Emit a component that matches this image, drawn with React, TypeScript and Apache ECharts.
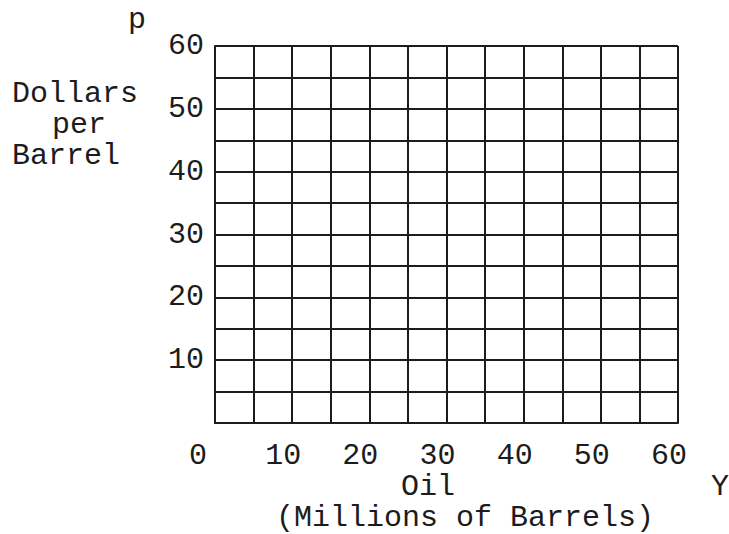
import React, { useEffect, useRef } from "react";
import * as echarts from "echarts";

const xMin = 0;
const xMax = 60;
const yMin = 0;
const yMax = 60;
const gridStep = 5;
const labelStep = 10;

const yLabelTitleLines = ["Dollars", "per", "Barrel"];
const yVarName = "p";
const xVarName = "Y";
const xTitle = "Oil";
const xSubTitle = "(Millions of Barrels)";

const FONT = '"Liberation Mono", "Courier New", monospace';
const INK = "#1c1c1c";

export default function App() {
  const ref = useRef<HTMLDivElement>(null);
  useEffect(() => {
    if (!ref.current) return;
    const chart = echarts.init(ref.current, null, { renderer: "svg" });
    const lineStyle = { color: INK, width: 2 };
    const fs = 30;
    const lh = 24;
    const txt = (text: string, x: number, y: number, align: string) => ({
      type: "text",
      x,
      y,
      style: {
        text,
        fontFamily: FONT,
        fontSize: fs,
        lineHeight: lh,
        fill: INK,
        align,
        verticalAlign: "middle",
      },
    });
    chart.setOption({
      animation: false,
      backgroundColor: "#ffffff",
      grid: { left: 215, top: 46, width: 463, height: 377, containLabel: false },
      xAxis: {
        type: "value",
        min: xMin,
        max: xMax,
        interval: gridStep,
        axisLine: { show: true, lineStyle },
        axisTick: { show: false },
        splitLine: { show: true, lineStyle, showMinLine: true, showMaxLine: true },
        axisLabel: {
          show: true,
          margin: 21,
          fontFamily: FONT,
          fontSize: fs,
          lineHeight: lh,
          color: INK,
          padding: [0, 18, 0, 0],
          formatter: (v: number) =>
            v % labelStep === 0 ? (v === 0 ? "{z|" + v + "}" : String(v)) : "",
          rich: {
            z: { fontFamily: FONT, fontSize: fs, lineHeight: lh, color: INK, padding: [0, 16, 0, 0] },
          },
        },
      },
      yAxis: {
        type: "value",
        min: yMin,
        max: yMax,
        interval: gridStep,
        axisLine: { show: true, lineStyle },
        axisTick: { show: false },
        splitLine: { show: true, lineStyle, showMinLine: true, showMaxLine: true },
        axisLabel: {
          show: true,
          margin: 11,
          fontFamily: FONT,
          fontSize: fs,
          lineHeight: lh,
          color: INK,
          formatter: (v: number) => (v % labelStep === 0 && v !== 0 ? String(v) : ""),
        },
      },
      graphic: [
        txt(yVarName, 137, 20, "center"),
        txt(yLabelTitleLines[0], 12, 94, "left"),
        txt(yLabelTitleLines[1], 79, 125, "center"),
        txt(yLabelTitleLines[2], 12, 156, "left"),
        txt(xTitle, 428, 487, "center"),
        txt(xSubTitle, 465, 518, "center"),
        txt(xVarName, 720, 487, "center"),
      ],
      series: [],
    });
    return () => chart.dispose();
  }, []);
  return (
    <div
      ref={ref}
      style={{ position: "fixed", left: 0, top: 0, width: 729, height: 534, background: "#fff" }}
    />
  );
}
